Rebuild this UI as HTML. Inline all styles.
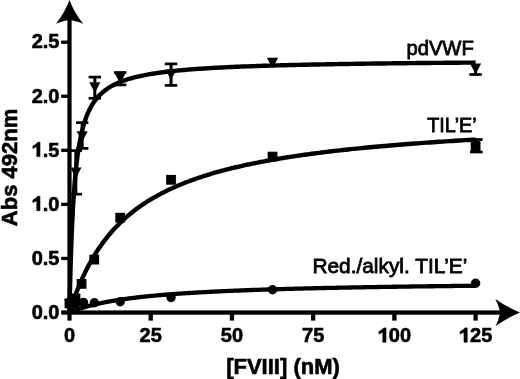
<!DOCTYPE html>
<html><head><meta charset="utf-8"><style>
html,body{margin:0;padding:0;background:#fff;}
svg{display:block;will-change:transform;}
.tl{font-family:"Liberation Sans",sans-serif;font-weight:bold;font-size:20px;fill:#000;stroke:#000;stroke-width:0.6px;}
.one{fill:#000;stroke:#000;stroke-width:0.6px;stroke-linejoin:round;}
.al{font-family:"Liberation Sans",sans-serif;font-weight:bold;font-size:22px;fill:#000;stroke:#000;stroke-width:0.6px;}
.lg{font-family:"Liberation Sans",sans-serif;font-size:21px;fill:#000;stroke:#000;stroke-width:0.8px;}
</style></head><body>
<svg width="520" height="379" viewBox="0 0 520 379">
<rect width="520" height="379" fill="#fff"/>
<g fill="#000">
<rect x="67.4" y="14" width="4.2" height="306.6"/>
<rect x="61.2" y="310.4" width="439" height="4.3"/>
<path d="M69.5,0 Q65.0,12.3 56.0,23.8 Q61.2,21.3 67.4,20.3 L71.6,20.3 Q77.8,21.3 83.2,23.8 Q74.0,12.3 69.5,0 Z"/>
<path d="M520,312.5 Q507.5,307.3 495.3,298.9 Q498.2,304.0 499.7,310.3 L499.7,314.6 Q498.3,321.0 495.6,326.0 Q507.5,317.7 520,312.5 Z"/>
<rect x="61.2" y="256.79" width="7" height="3.3"/>
<rect x="61.2" y="202.73" width="7" height="3.3"/>
<rect x="61.2" y="148.67" width="7" height="3.3"/>
<rect x="61.2" y="94.61" width="7" height="3.3"/>
<rect x="61.2" y="40.55" width="7" height="3.3"/>
<rect x="148.57" y="313" width="4.3" height="7.6"/>
<rect x="229.79" y="313" width="4.3" height="7.6"/>
<rect x="311.01" y="313" width="4.3" height="7.6"/>
<rect x="392.23" y="313" width="4.3" height="7.6"/>
<rect x="473.45" y="313" width="4.3" height="7.6"/>
<path d="M69.50,312.50 L69.50,312.49 L69.50,312.42 L69.50,312.29 L69.51,312.07 L69.51,311.76 L69.52,311.33 L69.53,310.78 L69.55,310.11 L69.56,309.30 L69.58,308.35 L69.60,307.26 L69.63,306.01 L69.66,304.62 L69.69,303.08 L69.73,301.38 L69.77,299.53 L69.81,297.54 L69.86,295.39 L69.91,293.11 L69.97,290.68 L70.03,288.13 L70.09,285.44 L70.16,282.64 L70.24,279.72 L70.31,276.70 L70.40,273.58 L70.49,270.37 L70.58,267.08 L70.68,263.71 L70.78,260.29 L70.89,256.81 L71.01,253.29 L71.13,249.73 L71.26,246.14 L71.39,242.53 L71.53,238.91 L71.67,235.29 L71.82,231.66 L71.97,228.05 L72.14,224.45 L72.30,220.88 L72.48,217.33 L72.66,213.81 L72.85,210.33 L73.04,206.89 L73.24,203.50 L73.45,200.15 L73.66,196.85 L73.88,193.61 L74.11,190.42 L74.34,187.29 L74.58,184.22 L74.83,181.21 L75.08,178.27 L75.34,175.38 L75.61,172.56 L75.89,169.80 L76.17,167.10 L76.47,164.47 L76.76,161.90 L77.07,159.39 L77.39,156.94 L77.71,154.56 L78.04,152.23 L78.37,149.97 L78.72,147.76 L79.07,145.61 L79.43,143.52 L79.80,141.49 L80.18,139.51 L80.57,137.58 L80.96,135.71 L81.36,133.88 L81.77,132.11 L82.19,130.39 L82.62,128.71 L83.05,127.08 L83.50,125.49 L83.95,123.95 L84.41,122.45 L84.88,121.00 L85.36,119.58 L85.85,118.20 L86.35,116.86 L86.85,115.56 L87.37,114.30 L87.89,113.07 L88.43,111.87 L88.97,110.71 L89.52,109.58 L90.08,108.48 L90.65,107.41 L91.23,106.37 L91.82,105.36 L92.42,104.37 L93.02,103.41 L93.64,102.48 L94.27,101.57 L94.90,100.69 L95.55,99.83 L96.21,99.00 L96.87,98.18 L97.55,97.39 L98.24,96.62 L98.93,95.87 L99.64,95.14 L100.35,94.43 L101.08,93.73 L101.81,93.06 L102.56,92.40 L103.32,91.76 L104.08,91.13 L104.86,90.52 L105.65,89.93 L106.45,89.35 L107.26,88.78 L108.07,88.23 L108.90,87.69 L109.74,87.17 L110.59,86.66 L111.46,86.16 L112.33,85.67 L113.21,85.20 L114.11,84.74 L115.01,84.28 L115.93,83.84 L116.85,83.41 L117.79,82.99 L118.74,82.58 L119.70,82.18 L120.67,81.79 L121.65,81.40 L122.64,81.03 L123.65,80.66 L124.67,80.31 L125.69,79.96 L126.73,79.62 L127.78,79.28 L128.84,78.96 L129.92,78.64 L131.00,78.32 L132.10,78.02 L133.20,77.72 L134.32,77.43 L135.46,77.14 L136.60,76.86 L137.75,76.59 L138.92,76.32 L140.10,76.06 L141.29,75.80 L142.49,75.55 L143.71,75.31 L144.93,75.06 L146.17,74.83 L147.42,74.60 L148.68,74.37 L149.96,74.15 L151.25,73.93 L152.55,73.72 L153.86,73.51 L155.18,73.31 L156.52,73.11 L157.87,72.91 L159.23,72.72 L160.60,72.53 L161.99,72.34 L163.39,72.16 L164.80,71.98 L166.23,71.81 L167.66,71.64 L169.11,71.47 L170.58,71.30 L172.05,71.14 L173.54,70.98 L175.04,70.83 L176.56,70.68 L178.08,70.53 L179.62,70.38 L181.18,70.23 L182.74,70.09 L184.32,69.95 L185.91,69.82 L187.52,69.68 L189.14,69.55 L190.77,69.42 L192.42,69.29 L194.08,69.17 L195.75,69.04 L197.43,68.92 L199.13,68.80 L200.84,68.69 L202.57,68.57 L204.31,68.46 L206.06,68.35 L207.83,68.24 L209.61,68.13 L211.40,68.03 L213.21,67.92 L215.03,67.82 L216.87,67.72 L218.72,67.62 L220.58,67.53 L222.46,67.43 L224.35,67.34 L226.25,67.25 L228.17,67.16 L230.10,67.07 L232.05,66.98 L234.01,66.89 L235.99,66.81 L237.98,66.72 L239.98,66.64 L242.00,66.56 L244.03,66.48 L246.07,66.40 L248.13,66.33 L250.21,66.25 L252.30,66.18 L254.40,66.10 L256.52,66.03 L258.65,65.96 L260.80,65.89 L262.96,65.82 L265.14,65.75 L267.33,65.68 L269.53,65.62 L271.75,65.55 L273.99,65.49 L276.24,65.42 L278.50,65.36 L280.78,65.30 L283.07,65.24 L285.38,65.18 L287.71,65.12 L290.05,65.06 L292.40,65.00 L294.77,64.95 L297.15,64.89 L299.55,64.84 L301.97,64.78 L304.39,64.73 L306.84,64.68 L309.30,64.63 L311.77,64.57 L314.26,64.52 L316.77,64.47 L319.29,64.43 L321.82,64.38 L324.38,64.33 L326.94,64.28 L329.52,64.24 L332.12,64.19 L334.74,64.14 L337.36,64.10 L340.01,64.06 L342.67,64.01 L345.34,63.97 L348.03,63.93 L350.74,63.89 L353.46,63.84 L356.20,63.80 L358.96,63.76 L361.73,63.72 L364.51,63.69 L367.31,63.65 L370.13,63.61 L372.96,63.57 L375.81,63.53 L378.68,63.50 L381.56,63.46 L384.46,63.43 L387.37,63.39 L390.30,63.36 L393.25,63.32 L396.21,63.29 L399.19,63.25 L402.18,63.22 L405.19,63.19 L408.22,63.16 L411.26,63.12 L414.32,63.09 L417.40,63.06 L420.49,63.03 L423.60,63.00 L426.73,62.97 L429.87,62.94 L433.03,62.91 L436.20,62.88 L439.39,62.85 L442.60,62.83 L445.82,62.80 L449.07,62.77 L452.32,62.74 L455.60,62.72 L458.89,62.69 L462.20,62.66 L465.52,62.64 L468.87,62.61 L472.22,62.59 L475.60,62.56" fill="none" stroke="#000" stroke-width="4.4"/>
<path d="M69.50,312.50 L69.50,312.50 L69.50,312.50 L69.50,312.49 L69.51,312.47 L69.51,312.45 L69.52,312.43 L69.53,312.39 L69.55,312.35 L69.56,312.30 L69.58,312.24 L69.60,312.16 L69.63,312.08 L69.66,311.99 L69.69,311.89 L69.73,311.77 L69.77,311.65 L69.81,311.51 L69.86,311.35 L69.91,311.19 L69.97,311.01 L70.03,310.82 L70.09,310.61 L70.16,310.40 L70.24,310.16 L70.31,309.91 L70.40,309.65 L70.49,309.37 L70.58,309.08 L70.68,308.77 L70.78,308.45 L70.89,308.11 L71.01,307.76 L71.13,307.39 L71.26,307.00 L71.39,306.60 L71.53,306.19 L71.67,305.75 L71.82,305.31 L71.97,304.84 L72.14,304.36 L72.30,303.87 L72.48,303.36 L72.66,302.83 L72.85,302.29 L73.04,301.73 L73.24,301.15 L73.45,300.56 L73.66,299.96 L73.88,299.34 L74.11,298.71 L74.34,298.06 L74.58,297.39 L74.83,296.71 L75.08,296.02 L75.34,295.31 L75.61,294.59 L75.89,293.86 L76.17,293.11 L76.47,292.35 L76.76,291.58 L77.07,290.79 L77.39,289.99 L77.71,289.18 L78.04,288.36 L78.37,287.52 L78.72,286.68 L79.07,285.82 L79.43,284.95 L79.80,284.07 L80.18,283.19 L80.57,282.29 L80.96,281.38 L81.36,280.46 L81.77,279.54 L82.19,278.61 L82.62,277.66 L83.05,276.71 L83.50,275.76 L83.95,274.79 L84.41,273.82 L84.88,272.85 L85.36,271.86 L85.85,270.87 L86.35,269.88 L86.85,268.88 L87.37,267.87 L87.89,266.87 L88.43,265.85 L88.97,264.84 L89.52,263.82 L90.08,262.79 L90.65,261.77 L91.23,260.74 L91.82,259.71 L92.42,258.67 L93.02,257.64 L93.64,256.60 L94.27,255.57 L94.90,254.53 L95.55,253.49 L96.21,252.45 L96.87,251.41 L97.55,250.37 L98.24,249.34 L98.93,248.30 L99.64,247.26 L100.35,246.23 L101.08,245.20 L101.81,244.17 L102.56,243.14 L103.32,242.11 L104.08,241.09 L104.86,240.07 L105.65,239.05 L106.45,238.03 L107.26,237.02 L108.07,236.01 L108.90,235.01 L109.74,234.00 L110.59,233.01 L111.46,232.01 L112.33,231.02 L113.21,230.04 L114.11,229.06 L115.01,228.08 L115.93,227.11 L116.85,226.15 L117.79,225.19 L118.74,224.23 L119.70,223.28 L120.67,222.34 L121.65,221.40 L122.64,220.46 L123.65,219.53 L124.67,218.61 L125.69,217.70 L126.73,216.78 L127.78,215.88 L128.84,214.98 L129.92,214.09 L131.00,213.20 L132.10,212.32 L133.20,211.45 L134.32,210.58 L135.46,209.72 L136.60,208.86 L137.75,208.02 L138.92,207.17 L140.10,206.34 L141.29,205.51 L142.49,204.69 L143.71,203.87 L144.93,203.06 L146.17,202.26 L147.42,201.46 L148.68,200.67 L149.96,199.89 L151.25,199.11 L152.55,198.34 L153.86,197.58 L155.18,196.82 L156.52,196.07 L157.87,195.33 L159.23,194.59 L160.60,193.86 L161.99,193.14 L163.39,192.42 L164.80,191.71 L166.23,191.00 L167.66,190.30 L169.11,189.61 L170.58,188.93 L172.05,188.25 L173.54,187.58 L175.04,186.91 L176.56,186.25 L178.08,185.59 L179.62,184.95 L181.18,184.31 L182.74,183.67 L184.32,183.04 L185.91,182.42 L187.52,181.80 L189.14,181.19 L190.77,180.58 L192.42,179.98 L194.08,179.39 L195.75,178.80 L197.43,178.22 L199.13,177.64 L200.84,177.07 L202.57,176.51 L204.31,175.95 L206.06,175.39 L207.83,174.84 L209.61,174.30 L211.40,173.76 L213.21,173.23 L215.03,172.70 L216.87,172.18 L218.72,171.67 L220.58,171.16 L222.46,170.65 L224.35,170.15 L226.25,169.65 L228.17,169.16 L230.10,168.68 L232.05,168.20 L234.01,167.72 L235.99,167.25 L237.98,166.78 L239.98,166.32 L242.00,165.86 L244.03,165.41 L246.07,164.96 L248.13,164.52 L250.21,164.08 L252.30,163.65 L254.40,163.22 L256.52,162.79 L258.65,162.37 L260.80,161.95 L262.96,161.54 L265.14,161.13 L267.33,160.73 L269.53,160.33 L271.75,159.93 L273.99,159.54 L276.24,159.15 L278.50,158.77 L280.78,158.39 L283.07,158.01 L285.38,157.64 L287.71,157.27 L290.05,156.91 L292.40,156.55 L294.77,156.19 L297.15,155.84 L299.55,155.49 L301.97,155.14 L304.39,154.80 L306.84,154.46 L309.30,154.12 L311.77,153.79 L314.26,153.46 L316.77,153.13 L319.29,152.81 L321.82,152.49 L324.38,152.18 L326.94,151.86 L329.52,151.55 L332.12,151.25 L334.74,150.94 L337.36,150.64 L340.01,150.34 L342.67,150.05 L345.34,149.76 L348.03,149.47 L350.74,149.18 L353.46,148.90 L356.20,148.62 L358.96,148.34 L361.73,148.07 L364.51,147.80 L367.31,147.53 L370.13,147.26 L372.96,147.00 L375.81,146.73 L378.68,146.48 L381.56,146.22 L384.46,145.97 L387.37,145.71 L390.30,145.47 L393.25,145.22 L396.21,144.98 L399.19,144.73 L402.18,144.49 L405.19,144.26 L408.22,144.02 L411.26,143.79 L414.32,143.56 L417.40,143.33 L420.49,143.11 L423.60,142.88 L426.73,142.66 L429.87,142.44 L433.03,142.23 L436.20,142.01 L439.39,141.80 L442.60,141.59 L445.82,141.38 L449.07,141.17 L452.32,140.97 L455.60,140.77 L458.89,140.57 L462.20,140.37 L465.52,140.17 L468.87,139.97 L472.22,139.78 L475.60,139.59" fill="none" stroke="#000" stroke-width="4.4"/>
<path d="M69.50,312.50 L69.50,312.50 L69.50,312.50 L69.50,312.50 L69.51,312.50 L69.51,312.49 L69.52,312.49 L69.53,312.49 L69.55,312.48 L69.56,312.47 L69.58,312.47 L69.60,312.46 L69.63,312.44 L69.66,312.43 L69.69,312.42 L69.73,312.40 L69.77,312.39 L69.81,312.37 L69.86,312.35 L69.91,312.33 L69.97,312.30 L70.03,312.28 L70.09,312.25 L70.16,312.22 L70.24,312.19 L70.31,312.16 L70.40,312.12 L70.49,312.09 L70.58,312.05 L70.68,312.01 L70.78,311.96 L70.89,311.92 L71.01,311.87 L71.13,311.82 L71.26,311.77 L71.39,311.72 L71.53,311.66 L71.67,311.61 L71.82,311.55 L71.97,311.48 L72.14,311.42 L72.30,311.35 L72.48,311.28 L72.66,311.21 L72.85,311.14 L73.04,311.07 L73.24,310.99 L73.45,310.91 L73.66,310.83 L73.88,310.74 L74.11,310.66 L74.34,310.57 L74.58,310.48 L74.83,310.39 L75.08,310.30 L75.34,310.20 L75.61,310.10 L75.89,310.00 L76.17,309.90 L76.47,309.80 L76.76,309.69 L77.07,309.58 L77.39,309.47 L77.71,309.36 L78.04,309.25 L78.37,309.13 L78.72,309.02 L79.07,308.90 L79.43,308.78 L79.80,308.66 L80.18,308.54 L80.57,308.41 L80.96,308.28 L81.36,308.16 L81.77,308.03 L82.19,307.90 L82.62,307.77 L83.05,307.63 L83.50,307.50 L83.95,307.36 L84.41,307.23 L84.88,307.09 L85.36,306.95 L85.85,306.81 L86.35,306.67 L86.85,306.53 L87.37,306.38 L87.89,306.24 L88.43,306.09 L88.97,305.95 L89.52,305.80 L90.08,305.65 L90.65,305.51 L91.23,305.36 L91.82,305.21 L92.42,305.06 L93.02,304.91 L93.64,304.76 L94.27,304.61 L94.90,304.46 L95.55,304.31 L96.21,304.15 L96.87,304.00 L97.55,303.85 L98.24,303.70 L98.93,303.54 L99.64,303.39 L100.35,303.24 L101.08,303.08 L101.81,302.93 L102.56,302.78 L103.32,302.62 L104.08,302.47 L104.86,302.32 L105.65,302.17 L106.45,302.01 L107.26,301.86 L108.07,301.71 L108.90,301.56 L109.74,301.41 L110.59,301.25 L111.46,301.10 L112.33,300.95 L113.21,300.80 L114.11,300.65 L115.01,300.50 L115.93,300.36 L116.85,300.21 L117.79,300.06 L118.74,299.91 L119.70,299.77 L120.67,299.62 L121.65,299.47 L122.64,299.33 L123.65,299.18 L124.67,299.04 L125.69,298.90 L126.73,298.76 L127.78,298.61 L128.84,298.47 L129.92,298.33 L131.00,298.19 L132.10,298.06 L133.20,297.92 L134.32,297.78 L135.46,297.64 L136.60,297.51 L137.75,297.37 L138.92,297.24 L140.10,297.11 L141.29,296.97 L142.49,296.84 L143.71,296.71 L144.93,296.58 L146.17,296.45 L147.42,296.33 L148.68,296.20 L149.96,296.07 L151.25,295.95 L152.55,295.82 L153.86,295.70 L155.18,295.58 L156.52,295.45 L157.87,295.33 L159.23,295.21 L160.60,295.09 L161.99,294.98 L163.39,294.86 L164.80,294.74 L166.23,294.63 L167.66,294.51 L169.11,294.40 L170.58,294.28 L172.05,294.17 L173.54,294.06 L175.04,293.95 L176.56,293.84 L178.08,293.73 L179.62,293.63 L181.18,293.52 L182.74,293.41 L184.32,293.31 L185.91,293.21 L187.52,293.10 L189.14,293.00 L190.77,292.90 L192.42,292.80 L194.08,292.70 L195.75,292.60 L197.43,292.50 L199.13,292.41 L200.84,292.31 L202.57,292.21 L204.31,292.12 L206.06,292.03 L207.83,291.93 L209.61,291.84 L211.40,291.75 L213.21,291.66 L215.03,291.57 L216.87,291.48 L218.72,291.39 L220.58,291.31 L222.46,291.22 L224.35,291.13 L226.25,291.05 L228.17,290.97 L230.10,290.88 L232.05,290.80 L234.01,290.72 L235.99,290.64 L237.98,290.56 L239.98,290.48 L242.00,290.40 L244.03,290.32 L246.07,290.24 L248.13,290.17 L250.21,290.09 L252.30,290.02 L254.40,289.94 L256.52,289.87 L258.65,289.80 L260.80,289.72 L262.96,289.65 L265.14,289.58 L267.33,289.51 L269.53,289.44 L271.75,289.37 L273.99,289.30 L276.24,289.24 L278.50,289.17 L280.78,289.10 L283.07,289.04 L285.38,288.97 L287.71,288.91 L290.05,288.84 L292.40,288.78 L294.77,288.72 L297.15,288.66 L299.55,288.59 L301.97,288.53 L304.39,288.47 L306.84,288.41 L309.30,288.35 L311.77,288.29 L314.26,288.24 L316.77,288.18 L319.29,288.12 L321.82,288.07 L324.38,288.01 L326.94,287.95 L329.52,287.90 L332.12,287.85 L334.74,287.79 L337.36,287.74 L340.01,287.69 L342.67,287.63 L345.34,287.58 L348.03,287.53 L350.74,287.48 L353.46,287.43 L356.20,287.38 L358.96,287.33 L361.73,287.28 L364.51,287.23 L367.31,287.18 L370.13,287.14 L372.96,287.09 L375.81,287.04 L378.68,287.00 L381.56,286.95 L384.46,286.90 L387.37,286.86 L390.30,286.81 L393.25,286.77 L396.21,286.73 L399.19,286.68 L402.18,286.64 L405.19,286.60 L408.22,286.56 L411.26,286.51 L414.32,286.47 L417.40,286.43 L420.49,286.39 L423.60,286.35 L426.73,286.31 L429.87,286.27 L433.03,286.23 L436.20,286.19 L439.39,286.16 L442.60,286.12 L445.82,286.08 L449.07,286.04 L452.32,286.00 L455.60,285.97 L458.89,285.93 L462.20,285.90 L465.52,285.86 L468.87,285.82 L472.22,285.79 L475.60,285.75" fill="none" stroke="#000" stroke-width="4.3"/>
<rect x="474.10" y="68.00" width="3.0" height="6.50"/><rect x="469.40" y="73.15" width="12.4" height="2.7"/>
<path d="M470.00,63.40 L481.20,63.40 L475.60,73.90 Z"/>
<path d="M266.95,57.80 L278.15,57.80 L272.55,68.30 Z"/>
<rect x="169.53" y="63.90" width="3.0" height="21.50"/><rect x="164.83" y="62.55" width="12.4" height="2.7"/><rect x="164.83" y="84.05" width="12.4" height="2.7"/>
<path d="M165.43,69.40 L176.62,69.40 L171.03,79.90 Z"/>
<rect x="118.68" y="72.50" width="3.0" height="12.40"/><rect x="113.98" y="71.15" width="12.4" height="2.7"/><rect x="113.98" y="83.55" width="12.4" height="2.7"/>
<path d="M114.58,72.90 L125.78,72.90 L120.18,83.40 Z"/>
<rect x="93.34" y="77.10" width="3.0" height="21.20"/><rect x="88.64" y="75.75" width="12.4" height="2.7"/><rect x="88.64" y="96.95" width="12.4" height="2.7"/>
<path d="M89.24,82.20 L100.44,82.20 L94.84,92.70 Z"/>
<rect x="80.67" y="122.60" width="3.0" height="25.80"/><rect x="75.97" y="121.25" width="12.4" height="2.7"/><rect x="75.97" y="147.05" width="12.4" height="2.7"/>
<path d="M76.57,131.20 L87.77,131.20 L82.17,141.70 Z"/>
<rect x="74.34" y="150.60" width="3.0" height="43.60"/><rect x="69.64" y="149.25" width="12.4" height="2.7"/><rect x="69.64" y="192.85" width="12.4" height="2.7"/>
<path d="M70.24,167.50 L81.44,167.50 L75.84,178.00 Z"/>
<path d="M63.90,299.00 L75.10,299.00 L69.50,309.50 Z"/>
<rect x="474.80" y="139.50" width="3.0" height="12.50"/><rect x="470.00" y="138.15" width="12.6" height="2.7"/><rect x="470.00" y="150.65" width="12.6" height="2.7"/>
<rect x="470.70" y="141.10" width="9.8" height="9.8"/>
<rect x="267.65" y="151.70" width="9.8" height="9.8"/>
<rect x="166.12" y="174.90" width="9.8" height="9.8"/>
<rect x="115.28" y="212.80" width="9.8" height="9.8"/>
<rect x="89.34" y="254.70" width="9.8" height="9.8"/>
<rect x="76.70" y="279.00" width="9.8" height="9.8"/>
<rect x="70.60" y="293.60" width="9.8" height="9.8"/>
<rect x="67.78" y="296.10" width="9.8" height="9.8"/>
<rect x="66.19" y="298.10" width="9.8" height="9.8"/>
<rect x="64.60" y="298.60" width="9.8" height="9.8"/>
<circle cx="475.60" cy="283.20" r="4.7"/>
<circle cx="272.55" cy="289.80" r="4.7"/>
<circle cx="171.03" cy="297.50" r="4.7"/>
<circle cx="120.18" cy="301.80" r="4.7"/>
<circle cx="94.40" cy="302.70" r="4.7"/>
<circle cx="83.50" cy="302.40" r="4.7"/>
<circle cx="75.84" cy="303.50" r="4.7"/>
<circle cx="72.68" cy="304.00" r="4.7"/>
<circle cx="71.09" cy="304.00" r="4.7"/>
<circle cx="69.50" cy="304.00" r="4.7"/>
</g>
<text x="31.70" y="318.80" class="tl">0.0</text>
<text x="31.70" y="264.74" class="tl">0.5</text>
<path d="M36.80,210.68 L40.00,210.68 L40.00,196.36 L37.70,196.36 L35.90,198.28 L32.90,199.98 L32.90,202.58 L36.80,200.68 Z" class="one"/>
<text x="42.82" y="210.68" class="tl">.0</text>
<path d="M36.80,156.62 L40.00,156.62 L40.00,142.30 L37.70,142.30 L35.90,144.22 L32.90,145.92 L32.90,148.52 L36.80,146.62 Z" class="one"/>
<text x="42.82" y="156.62" class="tl">.5</text>
<text x="31.70" y="102.56" class="tl">2.0</text>
<text x="31.70" y="47.70" class="tl">2.5</text>
<text x="63.94" y="342.20" class="tl">0</text>
<text x="139.60" y="342.20" class="tl">25</text>
<text x="220.82" y="342.20" class="tl">50</text>
<text x="302.04" y="342.20" class="tl">75</text>
<path d="M382.80,342.20 L386.00,342.20 L386.00,327.88 L383.70,327.88 L381.90,329.80 L378.90,331.50 L378.90,334.10 L382.80,332.20 Z" class="one"/>
<text x="388.82" y="342.20" class="tl">00</text>
<path d="M464.02,342.20 L467.22,342.20 L467.22,327.88 L464.92,327.88 L463.12,329.80 L460.12,331.50 L460.12,334.10 L464.02,332.20 Z" class="one"/>
<text x="470.04" y="342.20" class="tl">25</text>
<text x="283" y="374" text-anchor="middle" class="al">[FVIII] (nM)</text>
<text transform="translate(16.6,167.5) rotate(-90)" text-anchor="middle" class="al">Abs 492nm</text>
<text x="406.4" y="55.4" class="lg" textLength="67.4" lengthAdjust="spacingAndGlyphs">pdVWF</text>
<text x="427.2" y="131.8" class="lg" textLength="49.4" lengthAdjust="spacingAndGlyphs">TIL&#8217;E&#8217;</text>
<text x="312.4" y="272.6" class="lg" textLength="155" lengthAdjust="spacingAndGlyphs">Red./alkyl. TIL&#8217;E&#8217;</text>
</svg>
</body></html>
